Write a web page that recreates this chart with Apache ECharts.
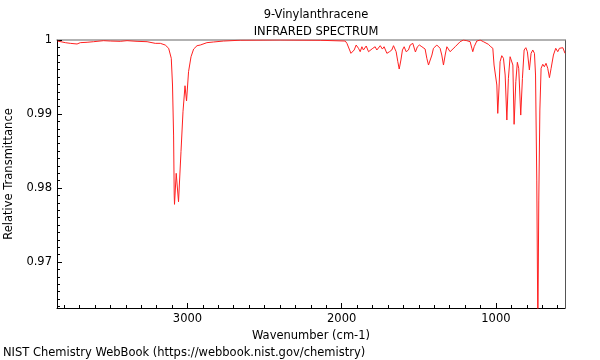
<!DOCTYPE html>
<html><head><meta charset="utf-8">
<script src="https://cdn.jsdelivr.net/npm/echarts@6/dist/echarts.min.js"></script>
<style>html,body{margin:0;padding:0;background:#fff}#c{width:600px;height:360px}</style>
</head><body><div id="c"></div>
<script>
const wavenumbers = [3842,3792,3760,3716,3695,3651,3609,3544,3500,3436,3392,3327,3262,3209,3176,3144,3122,3105,3097,3090,3086,3084,3073,3058,3042,3029,3016,3006,2993,2977,2960,2938,2917,2874,2831,2766,2658,2399,2139,1977,1966,1940,1934,1919,1906,1891,1880,1869,1859,1841,1826,1815,1798,1783,1772,1761,1750,1736,1725,1707,1690,1675,1664,1647,1636,1627,1616,1606,1595,1582,1567,1556,1539,1522,1509,1496,1480,1470,1459,1448,1437,1426,1415,1405,1394,1383,1373,1362,1351,1340,1329,1318,1308,1297,1286,1264,1232,1211,1189,1167,1156,1150,1141,1124,1102,1081,1049,1033,1020,1012,1003,994,988,979,973,962,951,940,929,919,908,900,890,882,871,861,852,839,828,817,806,796,783,772,761,750,743,735,728,722,715,707,696,686,675,664,653,642,627,612,599,588,577,566,552];
const transmittance = [0.99986,0.99964,0.99955,0.99946,0.99964,0.99969,0.99977,0.99991,0.99986,0.99982,0.99991,0.99982,0.99977,0.99955,0.99955,0.99932,0.99888,0.99753,0.99392,0.98716,0.97905,0.97780,0.98199,0.97815,0.98491,0.99031,0.99382,0.99176,0.99572,0.99774,0.99878,0.99923,0.99932,0.99964,0.99973,0.99986,0.99997,1.0,0.99996,0.99986,0.99955,0.9982,0.99797,0.99865,0.99932,0.99888,0.99842,0.99909,0.99865,0.99919,0.99842,0.9982,0.99888,0.99909,0.99865,0.99888,0.99923,0.99878,0.99909,0.9982,0.99842,0.99865,0.99923,0.99842,0.99707,0.99608,0.9973,0.99865,0.99909,0.99842,0.99865,0.99932,0.99955,0.99838,0.99909,0.99932,0.99909,0.99888,0.99878,0.99753,0.99662,0.99653,0.99797,0.99888,0.99865,0.99932,0.99932,0.99888,0.99797,0.99662,0.99797,0.99909,0.99888,0.99842,0.99865,0.99909,0.99977,1.0,0.99991,0.99977,0.99888,0.99842,0.99909,0.99986,1.0,0.99977,0.99942,0.99909,0.99888,0.99662,0.99639,0.99392,0.99009,0.99392,0.99707,0.99788,0.99753,0.99527,0.98919,0.99482,0.99774,0.99788,0.99662,0.98861,0.99436,0.99699,0.99618,0.98986,0.99482,0.99865,0.99896,0.99842,0.99595,0.9982,0.99865,0.9982,0.99527,0.98108,0.9608,0.97838,0.99054,0.99618,0.99672,0.99639,0.99685,0.99618,0.99491,0.99618,0.99797,0.99888,0.99842,0.99888,0.99865,0.99896,0.9982];
const xMajorTicks = [1000, 2000, 3000];
const yMajorTicks = [0.97, 0.98, 0.99, 1];
const xMin = 552, xMax = 3846, yMin = 0.9638, yMax = 1;

const xMinorTicks = [];
for (let v = 600; v <= 3800; v += 100) xMinorTicks.push(v);
const yMinorTicks = [];
for (let i = 964; i <= 1000; i++) yMinorTicks.push(i / 1000);

const data = wavenumbers.map((w, i) => [w, transmittance[i]]);
const FONT = 'DejaVu Sans';
const chart = echarts.init(document.getElementById('c'), null, {renderer: 'canvas'});
chart.setOption({
  animation: false,
  backgroundColor: '#fff',
  title: {
    text: '9-Vinylanthracene\nINFRARED SPECTRUM',
    left: 311, top: 2, textAlign: 'center',
    textStyle: {fontFamily: FONT, fontSize: 11.5, fontWeight: 'normal', color: '#000', lineHeight: 17}
  },
  graphic: [{
    type: 'text', left: 3, top: 347,
    style: {text: 'NIST Chemistry WebBook (https://webbook.nist.gov/chemistry)', font: '11.5px "DejaVu Sans"', fill: '#000'}
  }],
  grid: {left: 57, right: 35, top: 40, bottom: 52, containLabel: false, outerBoundsMode: 'none'},
  xAxis: [{
    type: 'value', inverse: true, min: xMin, max: xMax, position: 'bottom',
    name: 'Wavenumber (cm-1)', nameLocation: 'middle', nameGap: 17,
    nameTextStyle: {fontFamily: FONT, fontSize: 11.5, color: '#000'},
    axisLine: {show: true, lineStyle: {color: '#000', width: 1}},
    axisTick: {show: true, inside: true, length: 5, customValues: xMajorTicks, lineStyle: {color: '#000'}},
    axisLabel: {customValues: xMajorTicks, margin: 5, fontFamily: FONT, fontSize: 11.5, color: '#000',
      formatter: v => String(Math.round(v))},
    splitLine: {show: false}
  }, {
    type: 'value', inverse: true, min: xMin, max: xMax, position: 'bottom',
    axisLine: {show: false},
    axisTick: {show: true, inside: true, length: 3, customValues: xMinorTicks, lineStyle: {color: '#000'}},
    axisLabel: {show: false}, splitLine: {show: false}
  }, {
    type: 'value', inverse: true, min: xMin, max: xMax, position: 'top',
    axisLine: {show: true, lineStyle: {color: '#999', width: 1.5}},
    axisTick: {show: false}, axisLabel: {show: false}, splitLine: {show: false}
  }],
  yAxis: [{
    type: 'value', min: yMin, max: yMax, position: 'left',
    name: 'Relative Transmittance', nameLocation: 'middle', nameGap: 41, nameRotate: 90,
    nameTextStyle: {fontFamily: FONT, fontSize: 11.5, color: '#000'},
    axisLine: {show: true, lineStyle: {color: '#000', width: 1}},
    axisTick: {show: true, inside: true, length: 5, customValues: yMajorTicks, lineStyle: {color: '#000'}},
    axisLabel: {customValues: yMajorTicks, margin: 5, fontFamily: FONT, fontSize: 11.5, color: '#000',
      formatter: v => String(+(+v).toFixed(3))},
    splitLine: {show: false}
  }, {
    type: 'value', min: yMin, max: yMax, position: 'left',
    axisLine: {show: false},
    axisTick: {show: true, inside: true, length: 3, customValues: yMinorTicks, lineStyle: {color: '#000'}},
    axisLabel: {show: false}, splitLine: {show: false}
  }, {
    type: 'value', min: yMin, max: yMax, position: 'right',
    axisLine: {show: true, lineStyle: {color: '#555', width: 1}},
    axisTick: {show: false}, axisLabel: {show: false}, splitLine: {show: false}
  }],
  series: [{
    type: 'line', xAxisIndex: 0, yAxisIndex: 0, data: data,
    showSymbol: false, clip: true,
    lineStyle: {color: '#ff2020', width: 1}
  }]
});
</script></body></html>
